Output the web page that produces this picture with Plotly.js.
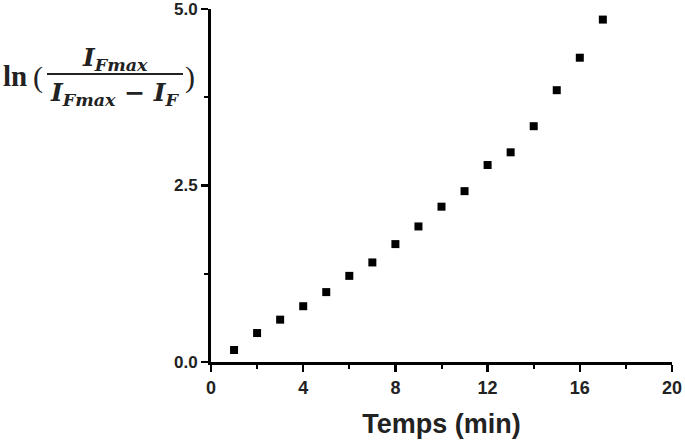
<!DOCTYPE html>
<html>
<head>
<meta charset="utf-8">
<script src="https://cdn.plot.ly/plotly-3.0.1.min.js"></script>
<style>
  html, body { margin: 0; padding: 0; background: #fff; }
  #plot { width: 685px; height: 440px; }
</style>
</head>
<body>
<div id="plot"></div>
<script>
// Time points (min) and ln(IFmax / (IFmax - IF)) values
let temps = [1, 2, 3, 4, 5, 6, 7, 8, 9, 10, 11, 12, 13, 14, 15, 16, 17]
let lnRatio = [0.17, 0.41, 0.60, 0.79, 0.99, 1.22, 1.41, 1.67, 1.92, 2.20, 2.42, 2.79, 2.97, 3.34, 3.85, 4.31, 4.85]

let xTicks = [0, 4, 8, 12, 16, 20]
let yTicks = [0, 2.5, 5]
let yTickText = ["0.0", "2.5", "5.0"]

// plot box in pixels, used to place the formula title left of the axis
let L = 211, T = 9, W = 461, H = 353
function px(x) { return (x - L) / W }
function py(y) { return 1 - (y - T) / H }

let serif = "DejaVu Serif, Liberation Serif, serif"
let sans = "Liberation Sans, Arial, sans-serif"

let trace1 = {
  x: temps,
  y: lnRatio,
  mode: "markers",
  type: "scatter",
  marker: { symbol: "square", size: 8, color: "#000" },
  cliponaxis: false
}

let axisCommon = {
  showgrid: false,
  zeroline: false,
  showline: true,
  linecolor: "#000",
  linewidth: 3,
  ticks: "outside",
  ticklen: 7,
  tickwidth: 2.5,
  tickcolor: "#000",
  ticklabeloverflow: "allow",
  tickfont: { family: sans, size: 18, color: "#222", weight: "bold" }
}

let layout = {
  width: 685,
  height: 440,
  margin: { l: L, r: 685 - L - W, t: T, b: 440 - T - H },
  paper_bgcolor: "#fff",
  plot_bgcolor: "#fff",
  showlegend: false,
  xaxis: Object.assign({}, axisCommon, {
    range: [0, 20],
    tickvals: xTicks,
    minor: { dtick: 2, ticks: "outside", ticklen: 4, tickwidth: 2, tickcolor: "#000" },
    title: {
      text: "Temps (min)",
      standoff: 18,
      font: { family: sans, size: 27, color: "#222", weight: "bold" }
    }
  }),
  yaxis: Object.assign({}, axisCommon, {
    range: [0, 5],
    tickvals: yTicks,
    ticktext: yTickText,
    tickfont: { family: sans, size: 17, color: "#222", weight: "bold" },
    minor: { dtick: 1.25, ticks: "outside", ticklen: 4, tickwidth: 2, tickcolor: "#000" }
  }),
  shapes: [
    // fraction bar of the y title
    { type: "line", xref: "paper", yref: "paper", x0: px(47), x1: px(183), y0: py(74), y1: py(74),
      line: { color: "#222", width: 2 } }
  ],
  annotations: [
    { text: "<b>ln</b>", xref: "paper", yref: "paper", x: px(1), y: py(76), xanchor: "left", yanchor: "middle",
      showarrow: false, font: { family: "Liberation Serif, serif", size: 29, color: "#222" } },
    { text: "(", xref: "paper", yref: "paper", x: px(38), y: py(77), xanchor: "center", yanchor: "middle",
      showarrow: false, font: { family: "Liberation Serif, serif", size: 30, color: "#222" } },
    { text: "<b><i>I<sub>Fmax</sub></i></b>", xref: "paper", yref: "paper", x: px(115), y: py(59), xanchor: "center", yanchor: "middle",
      showarrow: false, font: { family: serif, size: 25, color: "#222" } },
    { text: "<b><i>I<sub>Fmax</sub></i> − <i>I<sub>F</sub></i></b>", xref: "paper", yref: "paper", x: px(114), y: py(94), xanchor: "center", yanchor: "middle",
      showarrow: false, font: { family: serif, size: 25, color: "#222" } },
    { text: ")", xref: "paper", yref: "paper", x: px(190), y: py(77), xanchor: "center", yanchor: "middle",
      showarrow: false, font: { family: "Liberation Serif, serif", size: 30, color: "#222" } }
  ]
}

Plotly.newPlot("plot", [trace1], layout, { displayModeBar: false, staticPlot: true })
</script>
</body>
</html>
